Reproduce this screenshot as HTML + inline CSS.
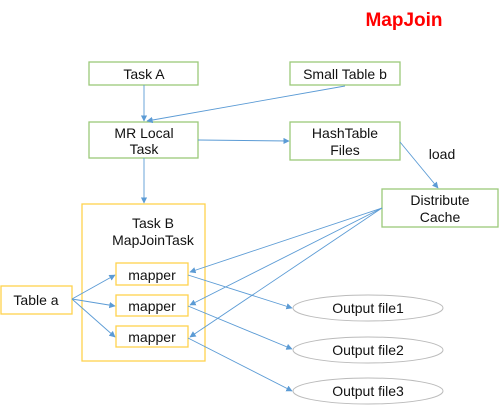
<!DOCTYPE html>
<html><head><style>
body{margin:0;background:#fff;}
svg{display:block;font-family:"Liberation Sans",Arial,sans-serif;}
</style></head><body>
<svg width="502" height="413" viewBox="0 0 502 413">
<defs><marker id="a" viewBox="0 0 10 10" refX="9" refY="5" markerWidth="7" markerHeight="7" orient="auto"><path d="M0,0L10,5L0,10z" fill="#5b9bd5"/></marker></defs>
<text x="404" y="26" text-anchor="middle" font-size="19" font-weight="bold" fill="#ff0000">MapJoin</text>
<g fill="#fff" stroke="#9bc97a" stroke-width="1.3">
<rect x="89" y="62" width="109" height="23"/>
<rect x="290" y="62" width="110" height="23"/>
<rect x="89" y="122" width="109" height="36"/>
<rect x="290" y="122" width="110" height="38"/>
<rect x="382" y="189" width="116" height="38"/>
</g>
<g fill="#fff" stroke="#ffd34d" stroke-width="1.3">
<rect x="82" y="204" width="123" height="157"/>
<rect x="116" y="263" width="72" height="22"/>
<rect x="116" y="295" width="72" height="21"/>
<rect x="116" y="326" width="72" height="21"/>
<rect x="1" y="286" width="71" height="28"/>
</g>
<g fill="#fff" stroke="#bbb" stroke-width="1">
<ellipse cx="368" cy="308" rx="75" ry="13"/>
<ellipse cx="368" cy="350" rx="75" ry="13"/>
<ellipse cx="368" cy="391" rx="75" ry="13"/>
</g>
<g stroke="#5b9bd5" stroke-width="0.9" fill="none" marker-end="url(#a)">
<line x1="144" y1="85" x2="144" y2="121"/>
<line x1="345" y1="86" x2="147" y2="121"/>
<line x1="198" y1="140" x2="289" y2="141"/>
<line x1="144" y1="158" x2="144" y2="203"/>
<line x1="400" y1="142" x2="438" y2="188"/>
<line x1="382" y1="208" x2="190" y2="272"/>
<line x1="382" y1="208" x2="190" y2="305"/>
<line x1="382" y1="208" x2="190" y2="337"/>
<line x1="72" y1="299" x2="115" y2="275"/>
<line x1="72" y1="299" x2="115" y2="306"/>
<line x1="72" y1="299" x2="115" y2="337"/>
<line x1="188" y1="275" x2="292" y2="308"/>
<line x1="188" y1="306" x2="292" y2="349"/>
<line x1="188" y1="338" x2="292" y2="391"/>
</g>
<g font-size="14" fill="#111" text-anchor="middle">
<text x="144" y="79">Task A</text>
<text x="345" y="79">Small Table b</text>
<text x="144" y="138">MR Local</text>
<text x="144" y="154">Task</text>
<text x="345" y="138">HashTable</text>
<text x="345" y="155">Files</text>
<text x="442" y="159">load</text>
<text x="440" y="205">Distribute</text>
<text x="440" y="222">Cache</text>
<text x="153" y="228">Task B</text>
<text x="153" y="245">MapJoinTask</text>
<text x="152" y="280">mapper</text>
<text x="152" y="311">mapper</text>
<text x="152" y="342">mapper</text>
<text x="36" y="305">Table a</text>
<text x="368" y="313">Output file1</text>
<text x="368" y="355">Output file2</text>
<text x="368" y="396">Output file3</text>
</g>
</svg>
</body></html>
